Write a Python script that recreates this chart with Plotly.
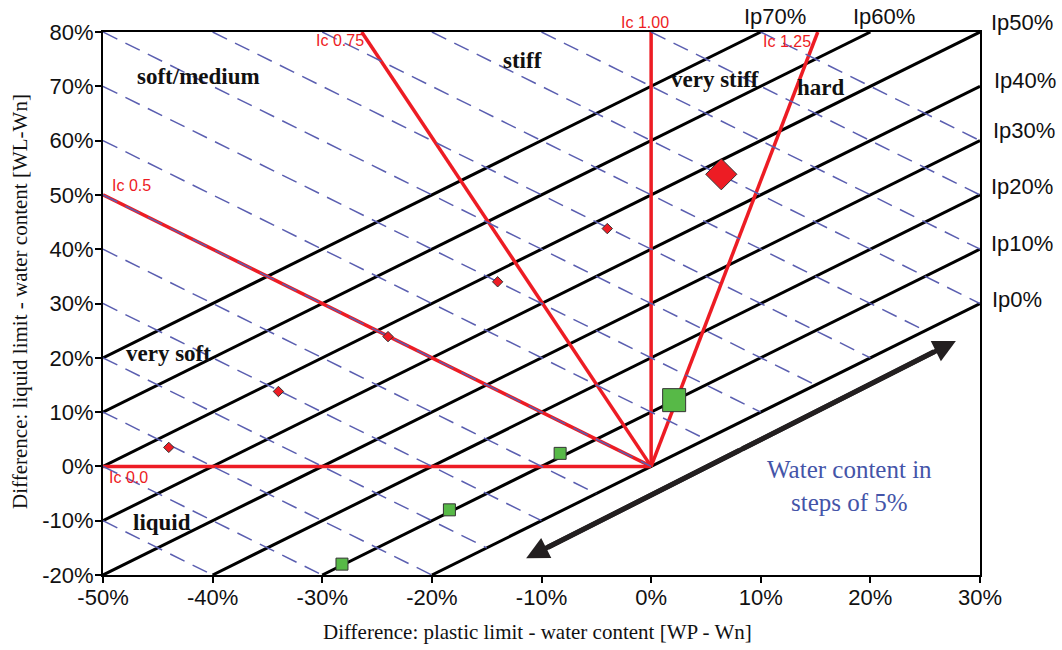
import plotly.graph_objects as go

# ---------------- data ----------------
x_range = [-50, 30]
y_range = [-20, 80]

x_tick_vals = [-50, -40, -30, -20, -10, 0, 10, 20, 30]
x_tick_text = ["-50%", "-40%", "-30%", "-20%", "-10%", "0%", "10%", "20%", "30%"]
y_tick_vals = [-20, -10, 0, 10, 20, 30, 40, 50, 60, 70, 80]
y_tick_text = ["-20%", "-10%", "0%", "10%", "20%", "30%", "40%", "50%", "60%", "70%", "80%"]

# plasticity index lines (WL-Wn) = (WP-Wn) + Ip
ip_values = [0, 10, 20, 30, 40, 50, 60, 70]
ip_labels = ["Ip0%", "Ip10%", "Ip20%", "Ip30%", "Ip40%", "Ip50%", "Ip60%", "Ip70%"]

# water content lines: (WP-Wn) + (WL-Wn) = const, steps of 5% water content
wc_line_sums = [-60, -50, -40, -30, -20, -10, 0, 10, 20, 30, 40, 50, 60, 70, 80, 90]

# consistency index lines from origin (end points)
ic_labels = ["Ic 0.0", "Ic 0.5", "Ic 0.75", "Ic 1.00", "Ic 1.25"]
ic_end_x = [-50, -50, -26.4, 0, 15.2]
ic_end_y = [0, 50, 80, 80, 80]

# samples
red_small_x = [-44, -34, -24, -14, -4]
red_small_y = [3.5, 13.8, 23.9, 34.0, 43.8]
red_big_x = [6.4]
red_big_y = [53.8]
green_small_x = [-28.2, -18.4, -8.3]
green_small_y = [-18.0, -8.0, 2.4]
green_big_x = [2.1]
green_big_y = [12.2]

# consistency region labels
region_labels = ["soft/medium", "stiff", "very stiff", "hard", "very soft", "liquid"]
region_x = [-41.3, -11.7, 5.8, 15.5, -44.0, -44.6]
region_y = [71.8, 74.8, 71.3, 69.8, 20.7, -10.4]

# water-content arrow (tips)
arrow_x = [-11.4, 27.8]
arrow_y = [-16.9, 23.1]

# ---------------- styling ----------------
RED = "#ED1C24"
GREEN = "#57B947"
DASH = "#5A5EB0"
INK = "#111111"
SANS = "Liberation Sans, Arial, sans-serif"
SERIF = "Liberation Serif, Times New Roman, serif"


def to_paper(x, y):
    return ((x - x_range[0]) / (x_range[1] - x_range[0]),
            (y - y_range[0]) / (y_range[1] - y_range[0]))


fig = go.Figure()

# black Ip lines
bx, by = [], []
for ip in ip_values:
    x0 = max(x_range[0], y_range[0] - ip)
    x1 = min(x_range[1], y_range[1] - ip)
    bx += [x0, x1, None]
    by += [x0 + ip, x1 + ip, None]
fig.add_trace(go.Scatter(x=bx, y=by, mode="lines",
                         line=dict(color="black", width=3), hoverinfo="skip"))

# red Ic lines
rx, ry = [], []
for ex, ey in zip(ic_end_x, ic_end_y):
    rx += [0, ex, None]
    ry += [0, ey, None]
fig.add_trace(go.Scatter(x=rx, y=ry, mode="lines",
                         line=dict(color=RED, width=3.5), hoverinfo="skip"))

# dashed water-content lines (above Ip0 line)
dx, dy = [], []
for c in wc_line_sums:
    x0 = max(x_range[0], c - y_range[1])
    x1 = min(x_range[1], c - y_range[0], c / 2)
    if x1 > x0:
        dx += [x0, x1, None]
        dy += [c - x0, c - x1, None]
fig.add_trace(go.Scatter(x=dx, y=dy, mode="lines",
                         line=dict(color=DASH, width=1.5, dash="16px,9px"),
                         hoverinfo="skip"))

# markers
outline = dict(color="#333333", width=1)
fig.add_trace(go.Scatter(x=red_small_x, y=red_small_y, mode="markers",
                         marker=dict(symbol="diamond", size=8, color=RED, line=outline)))
fig.add_trace(go.Scatter(x=red_big_x, y=red_big_y, mode="markers",
                         marker=dict(symbol="diamond", size=24, color=RED, line=outline)))
fig.add_trace(go.Scatter(x=green_small_x, y=green_small_y, mode="markers",
                         marker=dict(symbol="square", size=12, color=GREEN, line=outline)))
fig.add_trace(go.Scatter(x=green_big_x, y=green_big_y, mode="markers",
                         marker=dict(symbol="square", size=23, color=GREEN, line=outline)))

annotations = []

# Ip labels
ip_label_pos = {
    70: (11.26, 82.9, "center"),
    60: (21.2, 82.9, "center"),
    50: (30.85, 81.8, "left"),
    40: (31.1, 71.0, "left"),
    30: (31.0, 61.8, "left"),
    20: (30.85, 51.5, "left"),
    10: (30.8, 41.0, "left"),
    0: (30.95, 30.8, "left"),
}
for ip, lab in zip(ip_values, ip_labels):
    lx, ly, anc = ip_label_pos[ip]
    px, py = to_paper(lx, ly)
    annotations.append(dict(x=px, y=py, xref="paper", yref="paper", text=lab,
                            showarrow=False, xanchor=anc, yanchor="middle",
                            font=dict(family=SANS, size=22, color=INK)))

# Ic labels
ic_label_pos = [(-47.7, -2.1), (-47.4, 51.8), (-28.4, 78.5), (-0.6, 81.8), (12.4, 78.2)]
for lab, (lx, ly) in zip(ic_labels, ic_label_pos):
    px, py = to_paper(lx, ly)
    annotations.append(dict(x=px, y=py, xref="paper", yref="paper", text=lab,
                            showarrow=False, xanchor="center", yanchor="middle",
                            font=dict(family=SANS, size=16, color=RED)))

# region labels
for lab, lx, ly in zip(region_labels, region_x, region_y):
    px, py = to_paper(lx, ly)
    annotations.append(dict(x=px, y=py, xref="paper", yref="paper",
                            text="<b>" + lab + "</b>",
                            showarrow=False, xanchor="center", yanchor="middle",
                            font=dict(family=SERIF, size=23, color=INK)))

# water content note
px, py = to_paper(18.1, -3.6)
annotations.append(dict(x=px, y=py, xref="paper", yref="paper",
                        text="Water content in<br>steps of 5%",
                        showarrow=False, xanchor="center", yanchor="middle",
                        font=dict(family=SERIF, size=25, color="#4454A8")))

# double arrow: shaft as a line, heads as annotations with overlapping tails
ARROW = "#231F20"
fig.add_trace(go.Scatter(x=[arrow_x[0] + 2, arrow_x[1] - 2],
                         y=[arrow_y[0] + 2, arrow_y[1] - 2], mode="lines",
                         line=dict(color=ARROW, width=5), hoverinfo="skip"))
mid_x = (arrow_x[0] + arrow_x[1]) / 2
mid_y = (arrow_y[0] + arrow_y[1]) / 2
for tx, ty in zip(arrow_x, arrow_y):
    annotations.append(dict(x=tx, y=ty, xref="x", yref="y",
                            ax=mid_x, ay=mid_y, axref="x", ayref="y",
                            text="", showarrow=True, arrowhead=2, arrowsize=0.9,
                            arrowwidth=5, arrowcolor=ARROW, standoff=0))

# axis titles
annotations.append(dict(x=0.496, y=-0.105, xref="paper", yref="paper",
                        text="Difference: plastic limit - water content [WP - Wn]",
                        showarrow=False, xanchor="center", yanchor="middle",
                        font=dict(family=SERIF, size=21, color=INK)))
annotations.append(dict(x=-0.0946, y=0.503, xref="paper", yref="paper",
                        text="Difference: liquid limit - water content [WL-Wn]",
                        showarrow=False, xanchor="center", yanchor="middle", textangle=-90,
                        font=dict(family=SERIF, size=21, color=INK)))

axis_common = dict(showgrid=False, zeroline=False, showline=True, linecolor="black",
                   linewidth=2, mirror=True, ticks="outside", ticklen=6, tickwidth=2,
                   tickcolor="black", tickfont=dict(family=SANS, size=22, color=INK))

fig.update_layout(
    width=1062, height=650,
    margin=dict(l=103, r=82, t=32, b=75),
    paper_bgcolor="white", plot_bgcolor="white",
    showlegend=False,
    xaxis=dict(range=x_range, tickvals=x_tick_vals, ticktext=x_tick_text,
               ticklabelstandoff=-4, **axis_common),
    yaxis=dict(range=y_range, tickvals=y_tick_vals, ticktext=y_tick_text,
               ticklabelstandoff=-3, **axis_common),
    annotations=annotations,
)

fig.write_html("out.html")
